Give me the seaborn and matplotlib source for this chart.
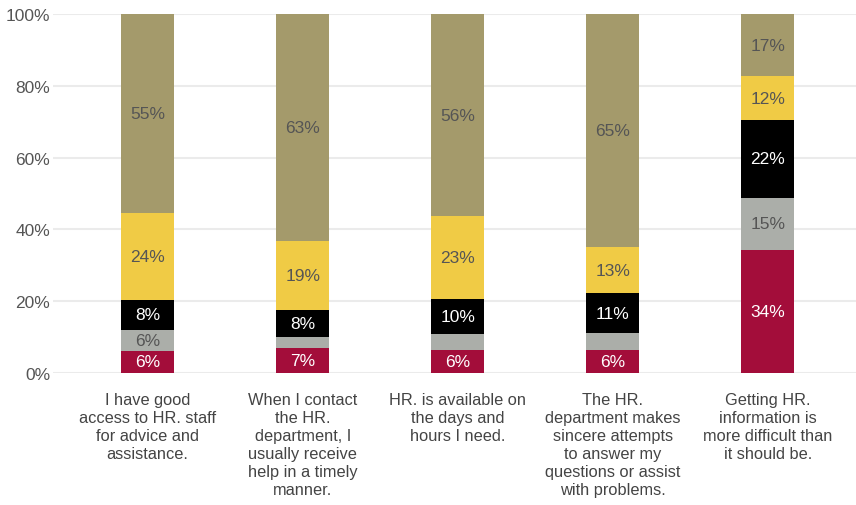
import matplotlib
matplotlib.use("Agg")
import matplotlib.pyplot as plt
import numpy as np
import pandas as pd
import seaborn as sns

categories = [
    "I have good\naccess to HR. staff\nfor advice and\nassistance.",
    "When I contact\nthe HR.\ndepartment, I\nusually receive\nhelp in a timely\nmanner.",
    "HR. is available on\nthe days and\nhours I need.",
    "The HR.\ndepartment makes\nsincere attempts\nto answer my\nquestions or assist\nwith problems.",
    "Getting HR.\ninformation is\nmore difficult than\nit should be.",
]

# Response shares (percent), stacked bottom to top
layer_names = ["crimson", "gray", "black", "yellow", "tan"]
crimson = [6.2, 6.9, 6.4, 6.4, 34.3]
gray = [5.8, 3.0, 4.4, 4.7, 14.6]
black = [8.4, 7.7, 9.8, 11.2, 21.6]
yellow = [24.2, 19.3, 23.1, 12.7, 12.2]
tan = [55.4, 63.1, 56.3, 65.0, 17.3]

layer_colors = ["#A30D3A", "#ABAEA9", "#000000", "#F0CB45", "#A49A6B"]
label_colors = ["white", "#555555", "white", "#555555", "#555555"]

yticks = [0, 20, 40, 60, 80, 100]
ytick_labels = ["0%", "20%", "40%", "60%", "80%", "100%"]

layers = [crimson, gray, black, yellow, tan]
df = pd.DataFrame({name: vals for name, vals in zip(layer_names, layers)})
df["category"] = categories
cum = df[layer_names].cumsum(axis=1)

sns.set_theme(style="white")
plt.rcParams["font.family"] = ["Liberation Sans", "DejaVu Sans"]

fig = plt.figure(figsize=(8.56, 5.06), dpi=100)
ax = fig.add_axes([0.062, 0.261, 0.938, 0.709])

# Draw cumulative tops from the highest layer down so each band shows through
for name, color in reversed(list(zip(layer_names, layer_colors))):
    sns.barplot(x=df["category"], y=cum[name], color=color, width=0.34,
                saturation=1, linewidth=0, edgecolor="none",
                ax=ax, zorder=3, order=categories)

# Segment value labels
for i in range(len(categories)):
    base = 0.0
    for name, tc in zip(layer_names, label_colors):
        v = df.loc[i, name]
        if v >= 5.5:
            ax.text(i, base + v / 2, f"{round(v):.0f}%", ha="center", va="center",
                    color=tc, fontsize=12.5, zorder=5)
        base += v

ax.set_ylim(0, 100)
ax.set_xlim(-0.61, 4.57)
ax.set_yticks(yticks)
ax.set_yticklabels(ytick_labels)
ax.yaxis.grid(True, color="#EBEBEB", linewidth=1.5, zorder=0)
ax.set_axisbelow(True)
for s in ax.spines.values():
    s.set_visible(False)
ax.set_xlabel("")
ax.set_ylabel("")
ax.tick_params(axis="y", length=0, pad=2, labelsize=12.5, labelcolor="#555555")
ax.tick_params(axis="x", length=0, pad=14, labelsize=11.8, labelcolor="#444444")
for lbl in ax.get_xticklabels():
    lbl.set_multialignment("center")
    lbl.set_linespacing(1.25)

fig.savefig("out.png", dpi=100, facecolor="white")
